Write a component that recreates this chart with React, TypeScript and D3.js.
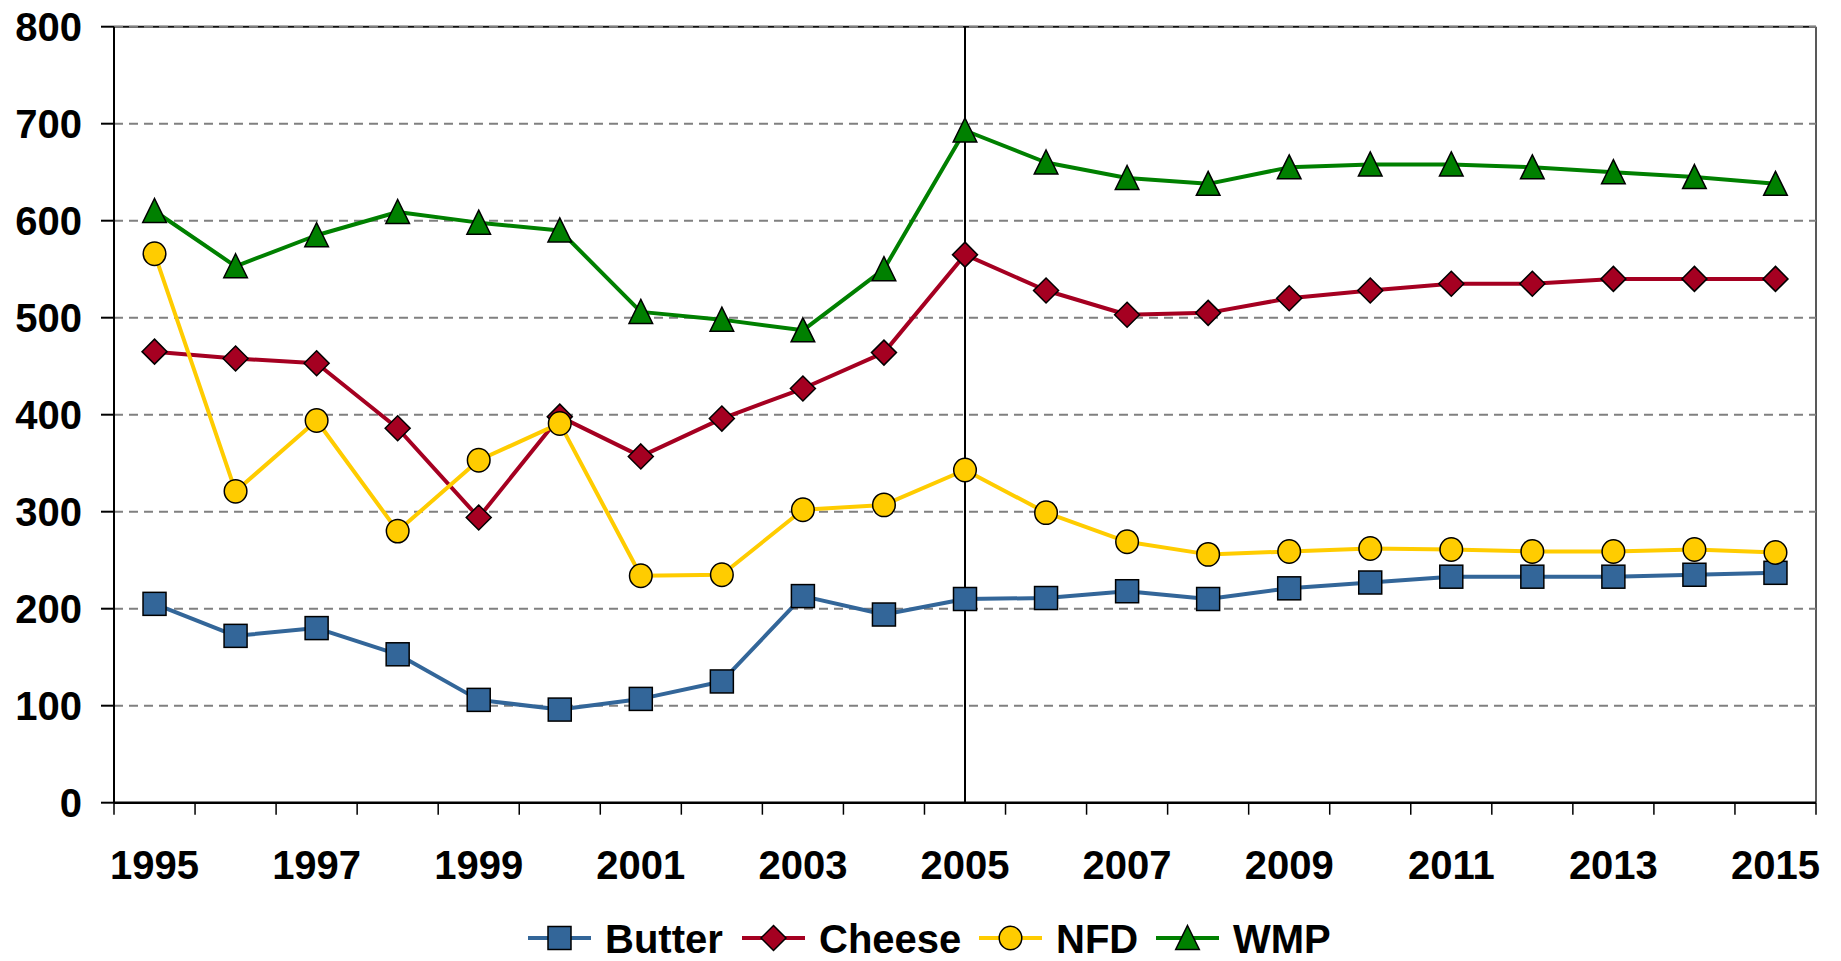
import React from "react";
import * as d3 from "d3";

const years = [1995,1996,1997,1998,1999,2000,2001,2002,2003,2004,2005,2006,2007,2008,2009,2010,2011,2012,2013,2014,2015];
const butter = [205,172,180,153,106,96,107,125,213,194,210,211,218,210,221,227,233,233,233,235,237];
const cheese = [465,458,453,386,294,398,357,396,427,464,565,528,503,505,520,528,535,535,540,540,540];
const nfd = [566,321,394,280,353,391,234,235,302,307,343,299,269,256,259,262,261,259,259,261,258];
const wmp = [610,553,585,609,598,590,506,498,487,550,693,660,644,638,655,658,658,655,650,645,638];
const yTicks = [0,100,200,300,400,500,600,700,800];
const xLabels = [1995,1997,1999,2001,2003,2005,2007,2009,2011,2013,2015];
const seriesNames = ["Butter","Cheese","NFD","WMP"];
const seriesColors = ["#336699","#A50021","#FFCC00","#008000"];
const seriesShapes = ["square","diamond","circle","triangle"];
const markerYear = 2005;

const W = 1841, H = 961;
const left = 114, right = 1816, top = 26.7, bottom = 802.7;
const FONT = "'Liberation Sans', Arial, sans-serif";

function Marker({ shape, x, y, fill }: { shape: string; x: number; y: number; fill: string }) {
  const s = 11.5;
  if (shape === "square") return <rect x={x - s} y={y - s} width={2 * s} height={2 * s} fill={fill} stroke="#000" strokeWidth={1.5} />;
  if (shape === "diamond") return <path d={`M${x},${y - s - 1}L${x + s + 1},${y}L${x},${y + s + 1}L${x - s - 1},${y}Z`} fill={fill} stroke="#000" strokeWidth={1.5} />;
  if (shape === "circle") return <ellipse cx={x} cy={y} rx={11.3} ry={11.7} fill={fill} stroke="#000" strokeWidth={1.5} />;
  return <path d={`M${x},${y - 12.5}L${x + 11.8},${y + 11.5}L${x - 11.8},${y + 11.5}Z`} fill={fill} stroke="#000" strokeWidth={1.5} />;
}

export default function App() {
  const x = d3.scaleBand<number>().domain(years).range([left, right]).paddingInner(0).paddingOuter(0);
  const y = d3.scaleLinear().domain([0, 800]).range([bottom, top]);
  const cx = (yr: number) => (x(yr) as number) + x.bandwidth() / 2;
  const allSeries = [butter, cheese, nfd, wmp];
  const line = d3.line<[number, number]>().x(d => cx(d[0])).y(d => y(d[1]));
  const boundaries = years.map(yr => x(yr) as number).concat([right]);

  const legendStarts = [528, 742, 979, 1156];
  const legendY = 938;

  return (
    <svg width={W} height={H} style={{ position: "absolute", left: 0, top: 0, background: "#fff" }} fontFamily={FONT}>
      <rect x={0} y={0} width={W} height={H} fill="#fff" />
      {/* plot border */}
      <line x1={left} x2={right} y1={top} y2={top} stroke="#111" strokeWidth={2} />
      <line x1={right} x2={right} y1={top} y2={bottom} stroke="#222" strokeWidth={1.5} />
      {/* gridlines */}
      {yTicks.filter(t => t > 0).map(t => (
        <line key={t} x1={left} x2={right} y1={y(t)} y2={y(t)} stroke="#808080" strokeWidth={2} strokeDasharray="9,6" />
      ))}
      {/* y ticks & labels */}
      {yTicks.map(t => (
        <g key={t}>
          <line x1={left - 13} x2={left} y1={y(t)} y2={y(t)} stroke="#000" strokeWidth={2} />
          <text x={82} y={y(t) + 14.5} textAnchor="end" fontSize={40} fontWeight="bold" fill="#000">{t}</text>
        </g>
      ))}
      {/* x ticks */}
      {boundaries.map((b, i) => (
        <line key={i} x1={b} x2={b} y1={bottom} y2={bottom + 12} stroke="#000" strokeWidth={1.5} />
      ))}
      {xLabels.map(yr => (
        <text key={yr} x={cx(yr)} y={879} textAnchor="middle" fontSize={40} fontWeight="bold" fill="#000">{yr}</text>
      ))}
      {/* vertical marker line */}
      <line x1={cx(markerYear)} x2={cx(markerYear)} y1={top} y2={bottom} stroke="#000" strokeWidth={2} />
      {/* axes */}
      <line x1={left} x2={left} y1={top} y2={bottom} stroke="#000" strokeWidth={2} />
      <line x1={left} x2={right} y1={bottom} y2={bottom} stroke="#000" strokeWidth={2.5} />
      {/* series */}
      {allSeries.map((vals, si) => (
        <g key={si}>
          <path d={line(years.map((yr, i) => [yr, vals[i]] as [number, number])) || ""} fill="none" stroke={seriesColors[si]} strokeWidth={4} strokeLinejoin="round" />
        </g>
      ))}
      {allSeries.map((vals, si) => (
        <g key={"m" + si}>
          {years.map((yr, i) => (
            <Marker key={yr} shape={seriesShapes[si]} x={cx(yr)} y={y(vals[i])} fill={seriesColors[si]} />
          ))}
        </g>
      ))}
      {/* legend */}
      {seriesNames.map((name, si) => {
        const sx = legendStarts[si];
        return (
          <g key={name}>
            <line x1={sx} x2={sx + 63} y1={legendY} y2={legendY} stroke={seriesColors[si]} strokeWidth={4} />
            <Marker shape={seriesShapes[si]} x={sx + 31.5} y={legendY} fill={seriesColors[si]} />
            <text x={sx + 77} y={legendY + 14.5} fontSize={40} fontWeight="bold" fill="#000">{name}</text>
          </g>
        );
      })}
    </svg>
  );
}
